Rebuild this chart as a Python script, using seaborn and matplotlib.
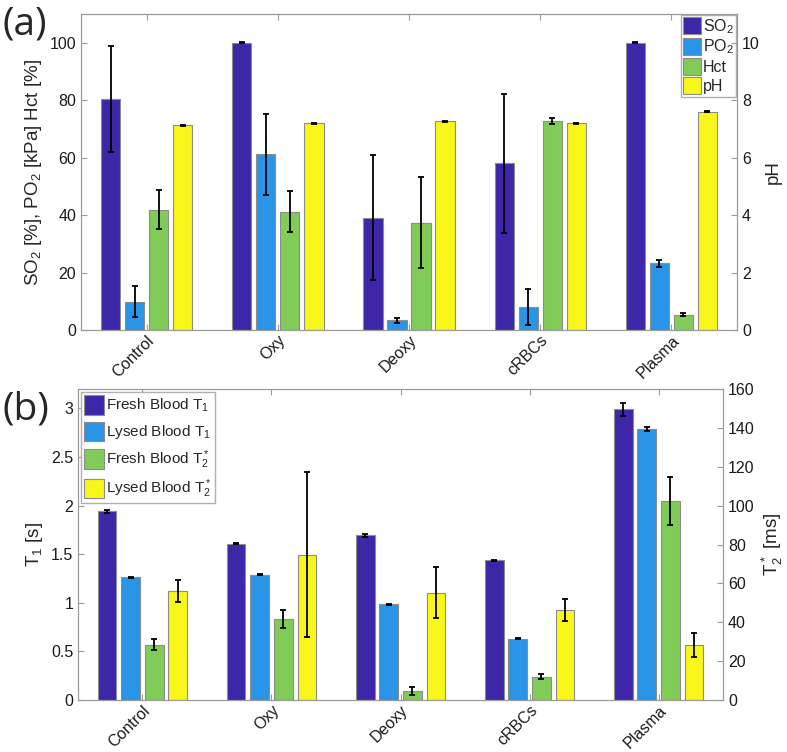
import numpy as np
import pandas as pd
import seaborn as sns
import matplotlib.pyplot as plt

groups = ["Control", "Oxy", "Deoxy", "cRBCs", "Plasma"]

# panel (a): blood gas values (pH drawn on the right axis, x10 on the left)
so2 = [80.5, 100.0, 39.1, 58.0, 100.0]
so2_err = [18.5, 0.1, 21.7, 24.2, 0.1]
po2 = [9.9, 61.1, 3.3, 8.0, 23.2]
po2_err = [5.5, 14.0, 1.0, 6.4, 1.3]
hct = [41.9, 41.2, 37.3, 72.7, 5.3]
hct_err = [6.9, 7.2, 15.8, 1.0, 0.55]
ph = [7.12, 7.19, 7.27, 7.19, 7.60]
ph_err = [0.02, 0.02, 0.02, 0.02, 0.02]

# panel (b): relaxation times (T1 in s, T2* in ms on the right axis)
t1_fresh = [1.94, 1.607, 1.696, 1.436, 2.99]
t1_fresh_err = [0.02, 0.006, 0.017, 0.005, 0.07]
t1_lysed = [1.262, 1.29, 0.984, 0.632, 2.786]
t1_lysed_err = [0.006, 0.008, 0.004, 0.004, 0.02]
t2_fresh = [28.4, 41.6, 4.6, 11.9, 102.6]
t2_fresh_err = [2.9, 4.5, 2.0, 1.3, 12.3]
t2_lysed = [56.0, 74.8, 55.3, 46.4, 28.4]
t2_lysed_err = [5.5, 42.5, 12.9, 5.8, 6.3]

colors = ["#3E26A8", "#2A94E6", "#81CC59", "#F8F719"]

sns.set_style("white")
plt.rcParams["font.family"] = ["Liberation Sans", "DejaVu Sans"]
plt.rcParams["mathtext.default"] = "regular"
plt.rcParams["axes.edgecolor"] = "#9a9a9a"
plt.rcParams["xtick.color"] = "#9a9a9a"
plt.rcParams["ytick.color"] = "#9a9a9a"
plt.rcParams["xtick.labelcolor"] = "#1a1a1a"
plt.rcParams["ytick.labelcolor"] = "#1a1a1a"


def long_frame(series):
    rows = []
    for name, vals, errs, scale in series:
        for g, v, e in zip(groups, vals, errs):
            rows.append({"group": g, "series": name, "val": v * scale, "err": e * scale})
    return pd.DataFrame(rows)


def draw_panel(ax, df):
    sns.barplot(data=df, x="group", y="val", hue="series", palette=colors,
                width=0.733, gap=0.2, errorbar=None, edgecolor="#8c8c8c",
                linewidth=0.8, saturation=1, ax=ax)
    names = list(dict.fromkeys(df["series"]))
    for cont, name in zip(ax.containers, names):
        sub = df[df["series"] == name]
        xs = [p.get_x() + p.get_width() / 2 for p in cont.patches]
        ax.errorbar(xs, sub["val"].values, yerr=sub["err"].values, fmt="none",
                    ecolor="black", elinewidth=1.3, capsize=2, capthick=1.3)
    ax.set_xlim(-0.5, 4.5)
    ax.set_xlabel("")
    ax.tick_params(axis="x", labelsize=11.5, rotation=45, direction="in",
                   top=True, bottom=True, length=4, pad=2)
    for lab in ax.get_xticklabels():
        lab.set_ha("right")
        lab.set_rotation_mode("anchor")
    ax.tick_params(axis="y", labelsize=11.5, direction="in", length=4)


fig = plt.figure(figsize=(7.87, 7.52), dpi=100)

# ---- (a)
ax_a = fig.add_axes([0.103, 0.5612, 0.8335, 0.4202])
df_a = long_frame([
    ("SO$_2$", so2, so2_err, 1),
    ("PO$_2$", po2, po2_err, 1),
    ("Hct", hct, hct_err, 1),
    ("pH", ph, ph_err, 10),
])
draw_panel(ax_a, df_a)
ax_a.set_ylim(0, 110)
ax_a.set_yticks([0, 20, 40, 60, 80, 100])
ax_a.set_ylabel("SO$_2$ [%], PO$_2$ [kPa] Hct [%]", fontsize=13.5)
h, l = ax_a.get_legend_handles_labels()
ax_a.legend(h, l, loc="upper right", fontsize=11.5, handlelength=1.15,
            handleheight=1.25, handletextpad=0.1, labelspacing=0.12,
            borderpad=0.15, borderaxespad=0.05, frameon=True, fancybox=False,
            edgecolor="#b0b0b0", framealpha=1)
ax_a2 = ax_a.twinx()
ax_a2.set_ylim(0, 11)
ax_a2.set_yticks([0, 2, 4, 6, 8, 10])
ax_a2.tick_params(axis="y", labelsize=11.5, direction="in", length=4)
ax_a2.set_ylabel("pH", fontsize=13.5)

# ---- (b)
ax_b = fig.add_axes([0.0991, 0.0691, 0.8196, 0.4136])
df_b = long_frame([
    ("Fresh Blood T$_1$", t1_fresh, t1_fresh_err, 1),
    ("Lysed Blood T$_1$", t1_lysed, t1_lysed_err, 1),
    ("Fresh Blood T$_2^*$", t2_fresh, t2_fresh_err, 1 / 50),
    ("Lysed Blood T$_2^*$", t2_lysed, t2_lysed_err, 1 / 50),
])
draw_panel(ax_b, df_b)
ax_b.set_ylim(0, 3.2)
ax_b.set_yticks([0, 0.5, 1, 1.5, 2, 2.5, 3])
ax_b.set_yticklabels(["0", "0.5", "1", "1.5", "2", "2.5", "3"])
ax_b.set_ylabel("T$_1$ [s]", fontsize=13.5)
h, l = ax_b.get_legend_handles_labels()
ax_b.legend(h, l, loc="upper left", fontsize=11, handlelength=1.3,
            handleheight=1.6, handletextpad=0.15, labelspacing=0.45,
            borderpad=0.2, borderaxespad=0.2, frameon=True, fancybox=False,
            edgecolor="#b0b0b0", framealpha=1)
ax_b2 = ax_b.twinx()
ax_b2.set_ylim(0, 160)
ax_b2.set_yticks(np.arange(0, 161, 20))
ax_b2.tick_params(axis="y", labelsize=11.5, direction="in", length=4)
ax_b2.set_ylabel("T$_2^*$ [ms]", fontsize=13.5)

fig.text(0.003, 0.967, "(a)", fontsize=28, family=["Open Sans", "DejaVu Sans"], va="center")
fig.text(0.003, 0.455, "(b)", fontsize=28, family=["Open Sans", "DejaVu Sans"], va="center")

fig.savefig("out.png", dpi=100)
